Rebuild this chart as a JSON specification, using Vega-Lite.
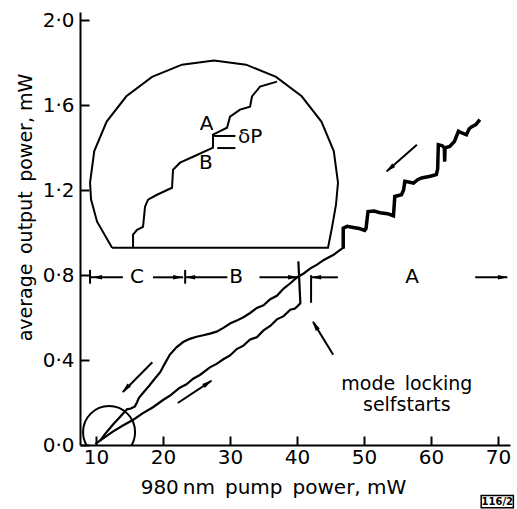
{
  "$schema": "https://vega.github.io/schema/vega-lite/v6.json",
  "width": 430,
  "height": 433,
  "autosize": "none",
  "padding": {"left": 80, "top": 12, "right": 7, "bottom": 64},
  "config": {"view": {"stroke": null}, "font": "DejaVu Sans"},
  "datasets": {
    "up": [
      {"i": 0, "x": 9.9, "y": 0.005}, {"i": 1, "x": 11, "y": 0.03}, {"i": 2, "x": 12.5, "y": 0.063},
      {"i": 3, "x": 14, "y": 0.092}, {"i": 4, "x": 15.5, "y": 0.118}, {"i": 5, "x": 17, "y": 0.15},
      {"i": 6, "x": 18.5, "y": 0.178}, {"i": 7, "x": 20, "y": 0.212}, {"i": 8, "x": 21, "y": 0.232},
      {"i": 9, "x": 22.5, "y": 0.27}, {"i": 10, "x": 23.5, "y": 0.286}, {"i": 11, "x": 24.5, "y": 0.312},
      {"i": 12, "x": 25.5, "y": 0.33}, {"i": 13, "x": 27, "y": 0.366}, {"i": 14, "x": 28, "y": 0.382},
      {"i": 15, "x": 29, "y": 0.404}, {"i": 16, "x": 30, "y": 0.422}, {"i": 17, "x": 31, "y": 0.452},
      {"i": 18, "x": 32, "y": 0.468}, {"i": 19, "x": 33, "y": 0.497}, {"i": 20, "x": 34, "y": 0.508},
      {"i": 21, "x": 35, "y": 0.54}, {"i": 22, "x": 36, "y": 0.561}, {"i": 23, "x": 37, "y": 0.592},
      {"i": 24, "x": 38, "y": 0.607}, {"i": 25, "x": 39, "y": 0.637}, {"i": 26, "x": 39.7, "y": 0.643},
      {"i": 27, "x": 40.1, "y": 0.655}, {"i": 28, "x": 40.5, "y": 0.668}, {"i": 29, "x": 40.2, "y": 0.865}
    ],
    "down": [
      {"i": 0, "x": 46.9, "y": 0.93}, {"i": 1, "x": 45.4, "y": 0.895}, {"i": 2, "x": 44, "y": 0.872},
      {"i": 3, "x": 43, "y": 0.85}, {"i": 4, "x": 42, "y": 0.832}, {"i": 5, "x": 41, "y": 0.808},
      {"i": 6, "x": 40, "y": 0.79}, {"i": 7, "x": 39, "y": 0.762}, {"i": 8, "x": 38, "y": 0.737},
      {"i": 9, "x": 37, "y": 0.703}, {"i": 10, "x": 36, "y": 0.687}, {"i": 11, "x": 35, "y": 0.658},
      {"i": 12, "x": 34, "y": 0.646}, {"i": 13, "x": 33, "y": 0.622}, {"i": 14, "x": 32, "y": 0.602},
      {"i": 15, "x": 31, "y": 0.586}, {"i": 16, "x": 30, "y": 0.572}, {"i": 17, "x": 29, "y": 0.552},
      {"i": 18, "x": 28, "y": 0.534}, {"i": 19, "x": 27, "y": 0.525}, {"i": 20, "x": 26, "y": 0.517},
      {"i": 21, "x": 25, "y": 0.51}, {"i": 22, "x": 24, "y": 0.5}, {"i": 23, "x": 23, "y": 0.485},
      {"i": 24, "x": 22, "y": 0.46}, {"i": 25, "x": 21, "y": 0.425}, {"i": 26, "x": 20.2, "y": 0.38},
      {"i": 27, "x": 19.6, "y": 0.344}, {"i": 28, "x": 18.7, "y": 0.31}, {"i": 29, "x": 17.8, "y": 0.274},
      {"i": 30, "x": 17, "y": 0.245}, {"i": 31, "x": 16.4, "y": 0.222}, {"i": 32, "x": 16.1, "y": 0.2},
      {"i": 33, "x": 15.8, "y": 0.182}, {"i": 34, "x": 15.2, "y": 0.172}, {"i": 35, "x": 14.6, "y": 0.168},
      {"i": 36, "x": 13.5, "y": 0.13}, {"i": 37, "x": 12.5, "y": 0.095}, {"i": 38, "x": 11.5, "y": 0.058},
      {"i": 39, "x": 10.6, "y": 0.02}
    ],
    "steps": [
      {"i": 0, "x": 46.7, "y": 0.93}, {"i": 1, "x": 46.9, "y": 0.932}, {"i": 2, "x": 46.9, "y": 1.022},
      {"i": 3, "x": 47.5, "y": 1.03}, {"i": 4, "x": 48.4, "y": 1.025}, {"i": 5, "x": 49.3, "y": 1.02},
      {"i": 6, "x": 50.1, "y": 1.011}, {"i": 7, "x": 50.3, "y": 1.02}, {"i": 8, "x": 50.6, "y": 1.1},
      {"i": 9, "x": 51.5, "y": 1.102}, {"i": 10, "x": 52.4, "y": 1.094}, {"i": 11, "x": 53.5, "y": 1.09},
      {"i": 12, "x": 54.4, "y": 1.08}, {"i": 13, "x": 54.6, "y": 1.171}, {"i": 14, "x": 55.6, "y": 1.179},
      {"i": 15, "x": 55.9, "y": 1.2}, {"i": 16, "x": 56.1, "y": 1.242}, {"i": 17, "x": 57.4, "y": 1.234},
      {"i": 18, "x": 58.0, "y": 1.25}, {"i": 19, "x": 58.6, "y": 1.258}, {"i": 20, "x": 59.9, "y": 1.266},
      {"i": 21, "x": 60.8, "y": 1.274}, {"i": 22, "x": 61.0, "y": 1.3}, {"i": 23, "x": 61.1, "y": 1.415},
      {"i": 24, "x": 61.7, "y": 1.41}, {"i": 25, "x": 62.0, "y": 1.4}, {"i": 26, "x": 62.05, "y": 1.335},
      {"i": 27, "x": 62.1, "y": 1.4}, {"i": 28, "x": 62.8, "y": 1.407}, {"i": 29, "x": 63.5, "y": 1.43},
      {"i": 30, "x": 64.1, "y": 1.478}, {"i": 31, "x": 64.6, "y": 1.47}, {"i": 32, "x": 65.3, "y": 1.462},
      {"i": 33, "x": 65.7, "y": 1.49}, {"i": 34, "x": 66.1, "y": 1.5}, {"i": 35, "x": 66.7, "y": 1.51},
      {"i": 36, "x": 67.3, "y": 1.533}
    ],
    "dome": [
      {"i": 0, "x": 12.39, "y": 0.929}, {"i": 1, "x": 10.15, "y": 1.052}, {"i": 2, "x": 9.25, "y": 1.156},
      {"i": 3, "x": 9.1, "y": 1.236}, {"i": 4, "x": 9.73, "y": 1.385}, {"i": 5, "x": 11.58, "y": 1.524},
      {"i": 6, "x": 14.52, "y": 1.643}, {"i": 7, "x": 18.36, "y": 1.734}, {"i": 8, "x": 22.82, "y": 1.792},
      {"i": 9, "x": 27.61, "y": 1.811}, {"i": 10, "x": 32.4, "y": 1.792}, {"i": 11, "x": 36.87, "y": 1.734},
      {"i": 12, "x": 40.7, "y": 1.643}, {"i": 13, "x": 43.64, "y": 1.524}, {"i": 14, "x": 45.49, "y": 1.385},
      {"i": 15, "x": 46.12, "y": 1.236}, {"i": 16, "x": 45.82, "y": 1.132}, {"i": 17, "x": 45.22, "y": 1.024},
      {"i": 18, "x": 44.63, "y": 0.929}, {"i": 19, "x": 12.39, "y": 0.929}
    ],
    "inset": [
      {"i": 0, "x": 15.52, "y": 0.929}, {"i": 1, "x": 15.52, "y": 0.991}, {"i": 2, "x": 16.12, "y": 1.014},
      {"i": 3, "x": 17.01, "y": 1.028}, {"i": 4, "x": 17.31, "y": 1.123}, {"i": 5, "x": 17.76, "y": 1.156},
      {"i": 6, "x": 19.1, "y": 1.179}, {"i": 7, "x": 21.34, "y": 1.212}, {"i": 8, "x": 21.49, "y": 1.297},
      {"i": 9, "x": 22.54, "y": 1.33}, {"i": 10, "x": 24.48, "y": 1.358}, {"i": 11, "x": 27.46, "y": 1.401},
      {"i": 12, "x": 27.46, "y": 1.462}, {"i": 13, "x": 28.06, "y": 1.472}, {"i": 14, "x": 29.55, "y": 1.495},
      {"i": 15, "x": 30.0, "y": 1.547}, {"i": 16, "x": 31.49, "y": 1.58}, {"i": 17, "x": 32.99, "y": 1.594},
      {"i": 18, "x": 33.28, "y": 1.642}, {"i": 19, "x": 34.48, "y": 1.689}, {"i": 20, "x": 37.01, "y": 1.712}
    ],
    "rules": [
      {"x": 9.1, "y": 0.79, "x2": 14.0, "y2": 0.79},
      {"x": 18.5, "y": 0.79, "x2": 23.0, "y2": 0.79},
      {"x": 23.3, "y": 0.79, "x2": 29.6, "y2": 0.79},
      {"x": 34.4, "y": 0.79, "x2": 40.1, "y2": 0.79},
      {"x": 42.1, "y": 0.79, "x2": 46.1, "y2": 0.79},
      {"x": 66.6, "y": 0.79, "x2": 71.4, "y2": 0.79},
      {"x": 9.1, "y": 0.76, "x2": 9.1, "y2": 0.825},
      {"x": 23.3, "y": 0.76, "x2": 23.3, "y2": 0.825},
      {"x": 42.1, "y": 0.8, "x2": 42.1, "y2": 0.67},
      {"x": 27.5, "y": 1.456, "x2": 30.8, "y2": 1.456},
      {"x": 28.1, "y": 1.399, "x2": 30.8, "y2": 1.399},
      {"x": 18.4, "y": 0.39, "x2": 14.0, "y2": 0.25},
      {"x": 22.2, "y": 0.198, "x2": 27.2, "y2": 0.302},
      {"x": 57.9, "y": 1.415, "x2": 53.4, "y2": 1.29},
      {"x": 45.4, "y": 0.425, "x2": 42.4, "y2": 0.58}
    ],
    "headsLeft": [{"x": 10.15, "y": 0.79}, {"x": 24.05, "y": 0.79}, {"x": 42.85, "y": 0.79}],
    "headsRight": [{"x": 22.25, "y": 0.79}, {"x": 39.4, "y": 0.79}, {"x": 70.75, "y": 0.79}],
    "labels": [
      {"x": 26.5, "y": 1.512, "t": "A"},
      {"x": 26.4, "y": 1.329, "t": "B"},
      {"x": 33.0, "y": 1.449, "t": "δP"},
      {"x": 16.1, "y": 0.79, "t": "C"},
      {"x": 30.9, "y": 0.79, "t": "B"},
      {"x": 57.2, "y": 0.79, "t": "A"}
    ],
    "note": [
      {"x": 56.4, "y": 0.287, "t": ["mode\u2002locking", "selfstarts"]}
    ]
  },
  "encoding": {
    "x": {"field": "x", "type": "quantitative", "scale": {"domain": [7.6, 71.8], "nice": false, "zero": false},
      "axis": {"values": [10, 20, 30, 40, 50, 60, 70], "grid": false, "domainColor": "black", "domainWidth": 2,
        "tickColor": "black", "tickWidth": 2, "tickSize": -9, "labelFontSize": 20, "labelColor": "black",
        "labelPadding": 11, "title": "980\u2009nm\u2002pump\u2002power, mW", "titleFontSize": 20, "titleFontWeight": "normal",
        "titleColor": "black", "titleX": 193, "titleY": 42, "titleBaseline": "middle", "titleAlign": "center", "titleAnchor": null}},
    "y": {"field": "y", "type": "quantitative", "scale": {"domain": [0, 2.04], "nice": false, "zero": false},
      "axis": {"values": [0, 0.4, 0.8, 1.2, 1.6, 2.0], "grid": false, "domainColor": "black", "domainWidth": 2,
        "tickColor": "black", "tickWidth": 2, "tickSize": -9, "labelFontSize": 20, "labelColor": "black",
        "labelPadding": 15, "labelExpr": "replace(format(datum.value, '.1f'), '.', '·')",
        "title": "average\u2002output\u2002power, mW", "titleFontSize": 19, "titleFontWeight": "normal",
        "titleColor": "black", "titleX": -55, "titleY": 195, "titleBaseline": "middle", "titleAlign": "center", "titleAnchor": null}}
  },
  "layer": [
    {"data": {"name": "up"}, "mark": {"type": "line", "color": "black", "strokeWidth": 2.2}, "encoding": {"order": {"field": "i", "type": "quantitative"}}},
    {"data": {"name": "down"}, "mark": {"type": "line", "color": "black", "strokeWidth": 2.2}, "encoding": {"order": {"field": "i", "type": "quantitative"}}},
    {"data": {"name": "steps"}, "mark": {"type": "line", "color": "black", "strokeWidth": 3.5}, "encoding": {"order": {"field": "i", "type": "quantitative"}}},
    {"data": {"name": "dome"}, "mark": {"type": "line", "color": "black", "strokeWidth": 2, "interpolate": "linear"}, "encoding": {"order": {"field": "i", "type": "quantitative"}}},
    {"data": {"name": "inset"}, "mark": {"type": "line", "color": "black", "strokeWidth": 2}, "encoding": {"order": {"field": "i", "type": "quantitative"}}},
    {"data": {"name": "rules"}, "mark": {"type": "rule", "color": "black", "strokeWidth": 2},
      "encoding": {"x2": {"field": "x2"}, "y2": {"field": "y2"}}},
    {"data": {"name": "headsLeft"}, "mark": {"type": "point", "shape": "M0,-1L0.45,1L-0.45,1Z", "angle": 270, "filled": true, "color": "black", "opacity": 1, "size": 100}},
    {"data": {"name": "headsRight"}, "mark": {"type": "point", "shape": "M0,-1L0.45,1L-0.45,1Z", "angle": 90, "filled": true, "color": "black", "opacity": 1, "size": 100}},
    {"data": {"values": [{"x": 14.4, "y": 0.264}]}, "mark": {"type": "point", "shape": "M0,-1L0.45,1L-0.45,1Z", "angle": 224, "filled": true, "color": "black", "opacity": 1, "size": 110}},
    {"data": {"values": [{"x": 26.7, "y": 0.292}]}, "mark": {"type": "point", "shape": "M0,-1L0.45,1L-0.45,1Z", "angle": 56, "filled": true, "color": "black", "opacity": 1, "size": 110}},
    {"data": {"values": [{"x": 53.85, "y": 1.302}]}, "mark": {"type": "point", "shape": "M0,-1L0.45,1L-0.45,1Z", "angle": 229, "filled": true, "color": "black", "opacity": 1, "size": 110}},
    {"data": {"values": [{"x": 42.7, "y": 0.564}]}, "mark": {"type": "point", "shape": "M0,-1L0.45,1L-0.45,1Z", "angle": 329, "filled": true, "color": "black", "opacity": 1, "size": 110}},
    {"data": {"values": [{"x": 11.94, "y": 0.061}]}, "mark": {"type": "point", "shape": "circle", "filled": false, "color": "black", "strokeWidth": 2, "opacity": 1, "size": 2704, "clip": true}},
    {"data": {"name": "labels"}, "mark": {"type": "text", "fontSize": 20, "color": "black", "align": "center", "baseline": "middle"},
      "encoding": {"text": {"field": "t"}}},
    {"data": {"name": "note"}, "mark": {"type": "text", "fontSize": 19, "lineHeight": 21, "color": "black", "align": "center", "baseline": "middle"},
      "encoding": {"text": {"field": "t"}}},
    {"data": {"values": [{"x": 67.5, "y": -0.238, "x2": 72.3, "y2": -0.296}]}, "mark": {"type": "rect", "fill": null, "stroke": "black", "strokeWidth": 1.5},
      "encoding": {"x2": {"field": "x2"}, "y2": {"field": "y2"}}},
    {"data": {"values": [{"x": 69.9, "y": -0.267, "t": "116/2"}]}, "mark": {"type": "text", "fontSize": 10, "fontWeight": "bold", "color": "black", "align": "center", "baseline": "middle"},
      "encoding": {"text": {"field": "t"}}}
  ]
}
